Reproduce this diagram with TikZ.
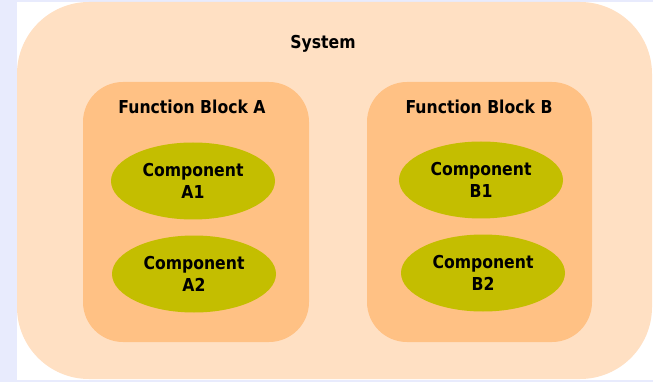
\documentclass[tikz,border=0pt]{standalone}
\usepackage{fontspec}
\setmainfont[FakeStretch=0.88]{DejaVu Sans}
\usetikzlibrary{shapes.geometric}
\definecolor{pageblue}{HTML}{E8EBFD}
\definecolor{systemfill}{HTML}{FFE0C3}
\definecolor{blockfill}{HTML}{FFC184}
\definecolor{compfill}{HTML}{C4BE00}
\tikzset{
  label text/.style={font=\bfseries\fontsize{17.8}{22}\selectfont, text=black, inner sep=0pt},
  systembox/.style={fill=systemfill, draw=none, rounded corners=72pt},
  blockbox/.style={fill=blockfill, draw=none, rounded corners=40pt},
  compnode/.style={ellipse, fill=compfill, draw=none, minimum width=164pt, minimum height=77pt,
    inner sep=0pt, align=center, label text}
}
\begin{document}
\begin{tikzpicture}[x=1pt,y=-1pt]
  \useasboundingbox (0,0) rectangle (653,382);
  \fill[pageblue] (0,0) rectangle (653,382);
  \fill[white] (17,2) rectangle (653,380);
  % system frame
  \path[systembox] (17,2) rectangle (652,379);
  \node[label text] (system) at (323,44) {System};
  % function blocks
  \path[blockbox] (83,82) rectangle (309,342);
  \path[blockbox] (367,82) rectangle (592,342);
  \node[label text] (fba) at (192,107) {Function Block A};
  \node[label text] (fbb) at (479,107) {Function Block B};
  % components
  \node[compnode] (a1) at (193,181) {Component\\A1};
  \node[compnode] (a2) at (194,274) {Component\\A2};
  \node[compnode] (b1) at (481,180) {Component\\B1};
  \node[compnode] (b2) at (483,273) {Component\\B2};
\end{tikzpicture}
\end{document}
